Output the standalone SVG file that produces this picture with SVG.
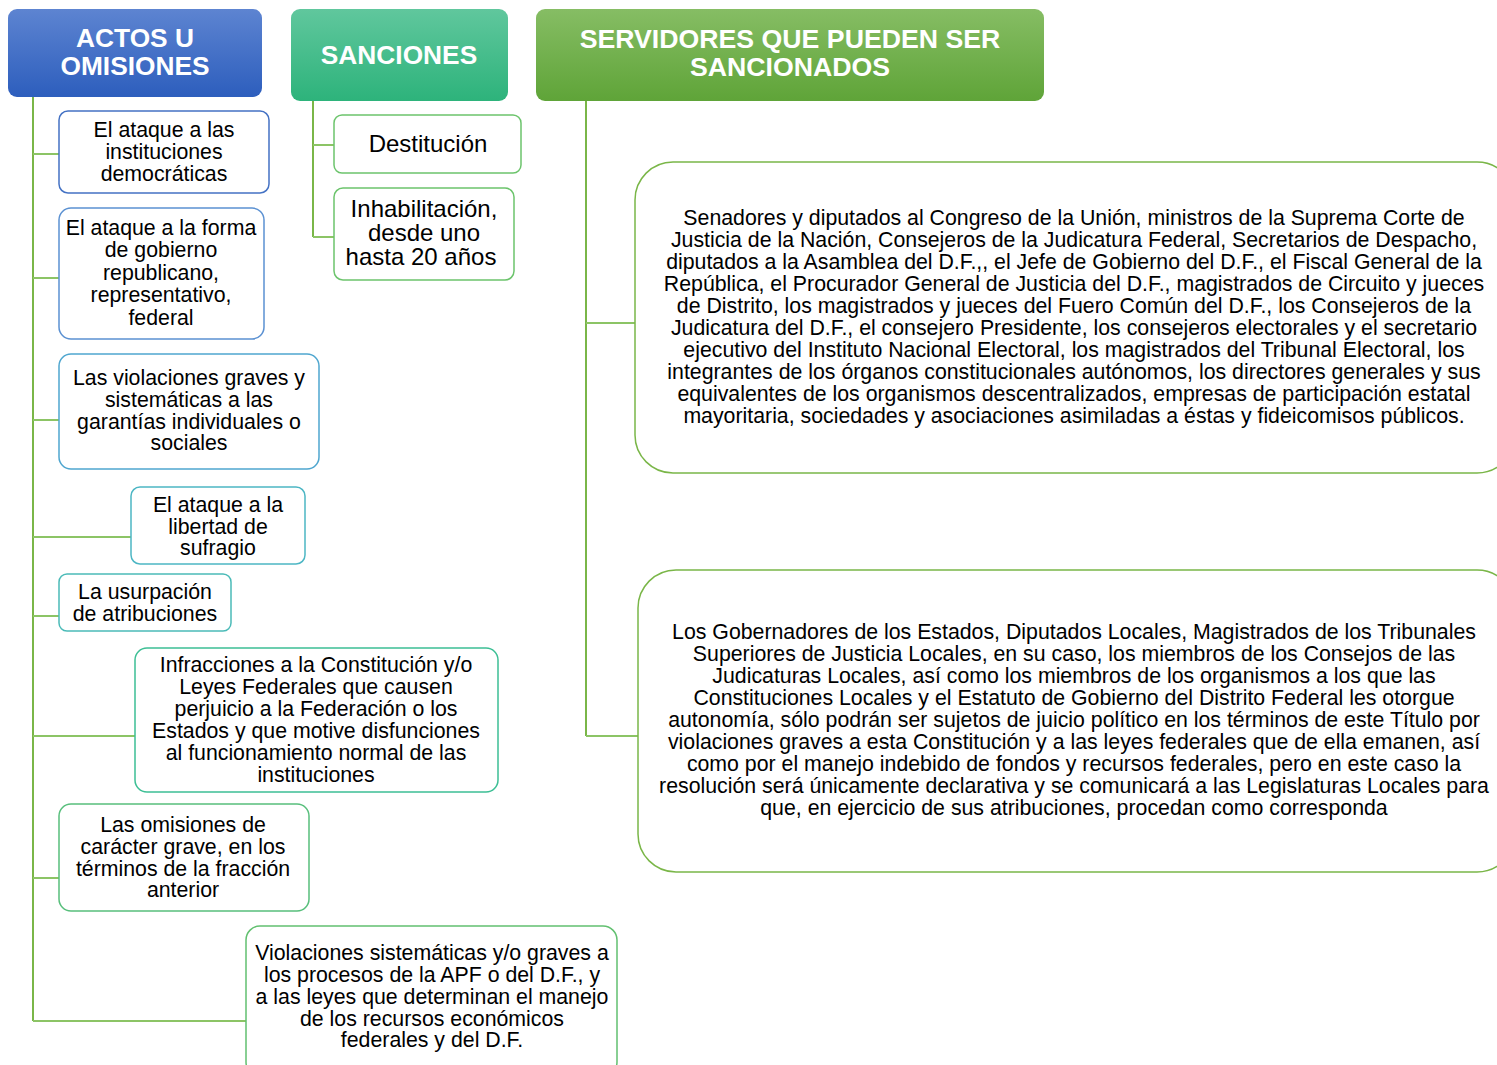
<svg xmlns="http://www.w3.org/2000/svg" width="1497" height="1065" viewBox="0 0 1497 1065">
<defs>
<linearGradient id="gBlue" x1="0" y1="0" x2="0" y2="1"><stop offset="0" stop-color="#5d84d1"/><stop offset="1" stop-color="#2d5ebd"/></linearGradient>
<linearGradient id="gTeal" x1="0" y1="0" x2="0" y2="1"><stop offset="0" stop-color="#60c79d"/><stop offset="1" stop-color="#2db37b"/></linearGradient>
<linearGradient id="gGreen" x1="0" y1="0" x2="0" y2="1"><stop offset="0" stop-color="#86bd64"/><stop offset="1" stop-color="#5fa438"/></linearGradient>
</defs>
<style>
.hd{font-family:"Liberation Sans",Arial,sans-serif;font-weight:bold;font-size:26.3px;fill:#ffffff;text-anchor:middle}
.t{font-family:"Liberation Sans",Arial,sans-serif;font-size:21.3px;fill:#000000;text-anchor:middle}
.t24{font-family:"Liberation Sans",Arial,sans-serif;font-size:24px;fill:#000000;text-anchor:middle}
.box{fill:#ffffff;stroke-width:1.5}
.con{fill:none;stroke:#7ab648;stroke-width:2}
.br{fill:none;stroke:#8cc465;stroke-width:2}
</style>
<rect width="1497" height="1065" fill="#ffffff"/>

<g id="connectors">
<path class="con" d="M33 97 V1021"/>
<path class="br" d="M33 154 H59 M33 278 H59 M33 420 H59 M33 537 H131 M33 616 H59 M33 736 H135 M33 878 H59 M33 1021 H246"/>
<path class="con" d="M313 101 V237"/>
<path class="br" d="M313 145 H334 M313 237 H334"/>
<path class="con" d="M586 101 V736"/>
<path class="br" d="M586 323 H635 M586 736 H638"/>
</g>

<g id="h-actos">
<rect x="8" y="9" width="254" height="88" rx="9" fill="url(#gBlue)"/>
<text class="hd" x="135" y="47">ACTOS U</text>
<text class="hd" x="135" y="75">OMISIONES</text>
</g>
<g id="h-sanciones">
<rect x="291" y="9" width="217" height="92" rx="9" fill="url(#gTeal)"/>
<text class="hd" x="399" y="64">SANCIONES</text>
</g>
<g id="h-servidores">
<rect x="536" y="9" width="508" height="92" rx="9" fill="url(#gGreen)"/>
<text class="hd" x="790" y="48" style="font-size:26.7px">SERVIDORES QUE PUEDEN SER</text>
<text class="hd" x="790" y="76" style="font-size:26.7px">SANCIONADOS</text>
</g>

<g id="a1">
<rect class="box" x="59" y="111" width="210" height="82" rx="9" stroke="#4472c4"/>
<text class="t" x="164" y="137">El ataque a las</text>
<text class="t" x="164" y="159">instituciones</text>
<text class="t" x="164" y="181">democráticas</text>
</g>
<g id="a2">
<rect class="box" x="59" y="208" width="205" height="131" rx="12" stroke="#5b91d2"/>
<text class="t" x="161" y="235">El ataque a la forma</text>
<text class="t" x="161" y="257">de gobierno</text>
<text class="t" x="161" y="280">republicano,</text>
<text class="t" x="161" y="302">representativo,</text>
<text class="t" x="161" y="325">federal</text>
</g>
<g id="a3">
<rect class="box" x="59" y="354" width="260" height="115" rx="12" stroke="#4fa6cf"/>
<text class="t" x="189" y="385">Las violaciones graves y</text>
<text class="t" x="189" y="407">sistemáticas a las</text>
<text class="t" x="189" y="429">garantías individuales o</text>
<text class="t" x="189" y="450">sociales</text>
</g>
<g id="a4">
<rect class="box" x="131" y="487" width="174" height="77" rx="9" stroke="#4cb6c4"/>
<text class="t" x="218" y="512">El ataque a la</text>
<text class="t" x="218" y="534">libertad de</text>
<text class="t" x="218" y="555">sufragio</text>
</g>
<g id="a5">
<rect class="box" x="59" y="574" width="172" height="57" rx="8" stroke="#4bbbb8"/>
<text class="t" x="145" y="599">La usurpación</text>
<text class="t" x="145" y="621">de atribuciones</text>
</g>
<g id="a6">
<rect class="box" x="135" y="648" width="363" height="144" rx="12" stroke="#3dbf95"/>
<text class="t" x="316" y="672">Infracciones a la Constitución y/o</text>
<text class="t" x="316" y="694">Leyes Federales que causen</text>
<text class="t" x="316" y="716">perjuicio a la Federación o los</text>
<text class="t" x="316" y="738">Estados y que motive disfunciones</text>
<text class="t" x="316" y="760">al funcionamiento normal de las</text>
<text class="t" x="316" y="782">instituciones</text>
</g>
<g id="a7">
<rect class="box" x="59" y="804" width="250" height="107" rx="12" stroke="#58bf7c"/>
<text class="t" x="183" y="832">Las omisiones de</text>
<text class="t" x="183" y="854">carácter grave, en los</text>
<text class="t" x="183" y="876">términos de la fracción</text>
<text class="t" x="183" y="897">anterior</text>
</g>
<g id="a8">
<rect class="box" x="246" y="926" width="371" height="150" rx="14" stroke="#62c070"/>
<text class="t" x="432" y="960">Violaciones sistemáticas y/o graves a</text>
<text class="t" x="432" y="982">los procesos de la APF o del D.F., y</text>
<text class="t" x="432" y="1004">a las leyes que determinan el manejo</text>
<text class="t" x="432" y="1026">de los recursos económicos</text>
<text class="t" x="432" y="1047">federales y del D.F.</text>
</g>

<g id="s1">
<rect class="box" x="334" y="115" width="187" height="58" rx="8" stroke="#6cc46c"/>
<text class="t24" x="428" y="152">Destitución</text>
</g>
<g id="s2">
<rect class="box" x="334" y="188" width="180" height="92" rx="9" stroke="#6cc46c"/>
<text class="t24" x="424" y="217">Inhabilitación,</text>
<text class="t24" x="424" y="241">desde uno</text>
<text class="t24" x="421" y="265">hasta 20 años</text>
</g>

<g id="v1">
<rect class="box" x="635" y="162" width="880" height="311" rx="38" stroke="#7ab648"/>
<text class="t" x="1074" y="225">Senadores y diputados al Congreso de la Unión, ministros de la Suprema Corte de</text>
<text class="t" x="1074" y="247">Justicia de la Nación, Consejeros de la Judicatura Federal, Secretarios de Despacho,</text>
<text class="t" x="1074" y="269">diputados a la Asamblea del D.F.,, el Jefe de Gobierno del D.F., el Fiscal General de la</text>
<text class="t" x="1074" y="291">República, el Procurador General de Justicia del D.F., magistrados de Circuito y jueces</text>
<text class="t" x="1074" y="313">de Distrito, los magistrados y jueces del Fuero Común del D.F., los Consejeros de la</text>
<text class="t" x="1074" y="335">Judicatura del D.F., el consejero Presidente, los consejeros electorales y el secretario</text>
<text class="t" x="1074" y="357">ejecutivo del Instituto Nacional Electoral, los magistrados del Tribunal Electoral, los</text>
<text class="t" x="1074" y="379">integrantes de los órganos constitucionales autónomos, los directores generales y sus</text>
<text class="t" x="1074" y="401">equivalentes de los organismos descentralizados, empresas de participación estatal</text>
<text class="t" x="1074" y="423">mayoritaria, sociedades y asociaciones asimiladas a éstas y fideicomisos públicos.</text>
</g>
<g id="v2">
<rect class="box" x="638" y="570" width="877" height="302" rx="38" stroke="#7ab648"/>
<text class="t" x="1074" y="639">Los Gobernadores de los Estados, Diputados Locales, Magistrados de los Tribunales</text>
<text class="t" x="1074" y="661">Superiores de Justicia Locales, en su caso, los miembros de los Consejos de las</text>
<text class="t" x="1074" y="683">Judicaturas Locales, así como los miembros de los organismos a los que las</text>
<text class="t" x="1074" y="705">Constituciones Locales y el Estatuto de Gobierno del Distrito Federal les otorgue</text>
<text class="t" x="1074" y="727">autonomía, sólo podrán ser sujetos de juicio político en los términos de este Título por</text>
<text class="t" x="1074" y="749">violaciones graves a esta Constitución y a las leyes federales que de ella emanen, así</text>
<text class="t" x="1074" y="771">como por el manejo indebido de fondos y recursos federales, pero en este caso la</text>
<text class="t" x="1074" y="793">resolución será únicamente declarativa y se comunicará a las Legislaturas Locales para</text>
<text class="t" x="1074" y="815">que, en ejercicio de sus atribuciones, procedan como corresponda</text>
</g>
</svg>
